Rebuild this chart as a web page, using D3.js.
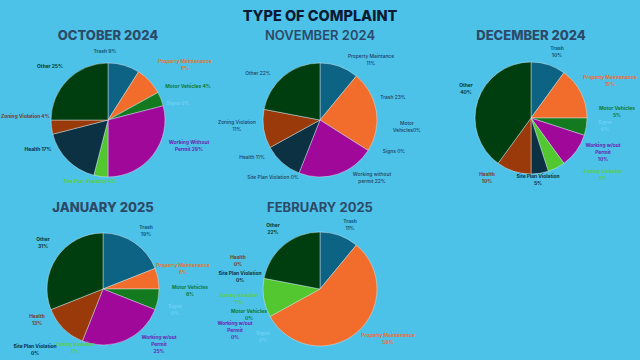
<!DOCTYPE html>
<html><head><meta charset="utf-8">
<script src="https://cdn.jsdelivr.net/npm/d3@7"></script>
<style>html,body{margin:0;padding:0;background:#4cc2e9;}svg{display:block;}</style>
</head><body>
<svg id="c" width="640" height="360"></svg>
<script>
// ---- DATA ----
const chartTitle = "TYPE OF COMPLAINT";
const months = ["OCTOBER 2024", "NOVEMBER 2024", "DECEMBER 2024", "JANUARY 2025", "FEBRUARY 2025"];
const octNames = ["Trash", "Property Maintenance", "Motor Vehicles", "Signs", "Working Without\nPermit", "Site Plan Violation", "Health", "Zoning Violation", "Other"];
const octValues = [9, 8, 4, 0, 29, 4, 17, 4, 25];
const novNames = ["Property Maintance", "Trash", "Motor\nVehicles", "Signs ", "Working without\npermit", "Site Plan Violation", "Health", "Zoning Violation", "Other"];
const novValues = [11, 23, 0, 0, 22, 0, 11, 11, 22];
const decNames = ["Trash", "Property Maintenance", "Motor Vehicles", "Signs", "Working w/out\nPermit", "Zoning Violation", "Site Plan Violation", "Health", "Other"];
const decValues = [10, 15, 5, 0, 10, 5, 5, 10, 40];
const janNames = ["Trash", "Property Maintenance", "Motor Vehicles", "Signs", "Working w/out\nPermit", "Zoning Violation", "Site Plan Violation", "Health", "Other"];
const janValues = [19, 6, 6, 0, 25, 0, 0, 13, 31];
const febNames = ["Trash", "Property Maintenance", "Motor Vehicles", "Signs", "Working w/out\nPermit", "Zoning Violation", "Site Plan Violation", "Health", "Other"];
const febValues = [11, 56, 0, 0, 0, 11, 0, 0, 22];

// ---- STYLE / LAYOUT ----
const sliceColors = ["#0d6384", "#f26d2b", "#137a1f", "#6fcff2", "#a0089a", "#52c72f", "#0b3142", "#9a3a0a", "#003d0f"];
const labelColors = ["#0b5a7c", "#e8702e", "#0c7a3a", "#6fd0f4", "#6a1fb0", "#5bd03a", "#0b2e44", "#7a3a1e", "#0b3a2a"];
const charts = [
  {names: octNames, values: octValues, cx: 108, cy: 120, r: 57, titleW: 800, mono: null, bold: true,
   seps: [" ", "\n", " ", " ", " ", " ", " ", " ", " "],
   pos: [[-3,-68],[77,-58],[80,-33],[70,-16],[81,23],[-18,62],[-70,30],[-107,-3,"start"],[-58,-53]]},
  {names: novNames, values: novValues, cx: 320, cy: 120, r: 57, titleW: 600, mono: "#1f3c5e", bold: false,
   seps: ["\n", " ", "", " ", " ", " ", " ", "\n", " "],
   pos: [[51,-63],[73,-22],[87,4],[74,32],[52,55],[-47,58],[-68,38],[-83,3],[-62,-46]]},
  {names: decNames, values: decValues, cx: 531, cy: 118, r: 56, titleW: 800, mono: null, bold: true,
   seps: ["\n","\n","\n","\n","\n","\n","\n","\n","\n"],
   pos: [[26,-69],[79,-40],[86,-9],[74,5],[72,28],[72,54],[7,59],[-44,57],[-65,-32]]},
  {names: janNames, values: janValues, cx: 103, cy: 289, r: 56, titleW: 800, mono: null, bold: true,
   seps: ["\n","\n","\n","\n","\n","\n","\n","\n","\n"],
   pos: [[43,-61],[80,-23],[87,-1],[72,18],[56,49],[-28,56],[-68,58],[-66,28],[-60,-49]]},
  {names: febNames, values: febValues, cx: 320, cy: 289, r: 57, titleW: 700, mono: null, bold: true,
   seps: ["\n","\n","\n","\n","\n","\n","\n","\n","\n"],
   pos: [[30,-67],[68,47],[-71,23],[-57,45],[-85,35],[-81,7],[-80,-15],[-82,-31],[-47,-63]]}
];

const svg = d3.select("#c");
svg.append("rect").attr("width", 640).attr("height", 360).attr("fill", "#4cc2e9");
svg.append("text").attr("x", 320).attr("y", 17).attr("text-anchor", "middle")
  .attr("dominant-baseline", "middle").attr("font-family", "Inter, sans-serif")
  .attr("font-weight", 800).attr("font-size", 14.5).attr("fill", "#0c1a33").text(chartTitle);

const pie = d3.pie().sort(null).value(d => d);
const slot = d3.scaleOrdinal().domain(d3.range(9)).range(sliceColors);
const labSlot = d3.scaleOrdinal().domain(d3.range(9)).range(labelColors);

charts.forEach((c, ci) => {
  const g = svg.append("g").attr("transform", `translate(${c.cx},${c.cy})`);
  const arc = d3.arc().innerRadius(0).outerRadius(c.r);
  g.selectAll("path").data(pie(c.values).filter(d => d.value > 0)).join("path")
    .attr("d", arc).attr("fill", d => slot(d.index))
    .attr("stroke", "rgba(220,235,240,0.75)").attr("stroke-width", 0.6);

  svg.append("text").attr("x", c.cx).attr("y", ci < 3 ? 36 : 208)
    .attr("text-anchor", "middle").attr("dominant-baseline", "middle")
    .attr("font-family", "Inter, sans-serif").attr("font-weight", c.titleW)
    .attr("font-size", 13).attr("fill", "#2d4a68").text(months[ci]);

  c.names.forEach((nm, i) => {
    const full = nm + c.seps[i] + c.values[i] + "%";
    const lines = full.split("\n");
    const p = c.pos[i];
    const t = g.append("text").attr("text-anchor", p[2] || "middle")
      .attr("font-family", "Inter, sans-serif").attr("font-weight", c.bold ? 700 : 500)
      .attr("font-size", 4.9).attr("fill", c.mono || labSlot(i));
    lines.forEach((ln, k) => {
      t.append("tspan").attr("x", p[0]).attr("y", p[1] + k * 6.7)
        .attr("dominant-baseline", "middle").text(ln);
    });
  });
});
</script>
</body></html>
